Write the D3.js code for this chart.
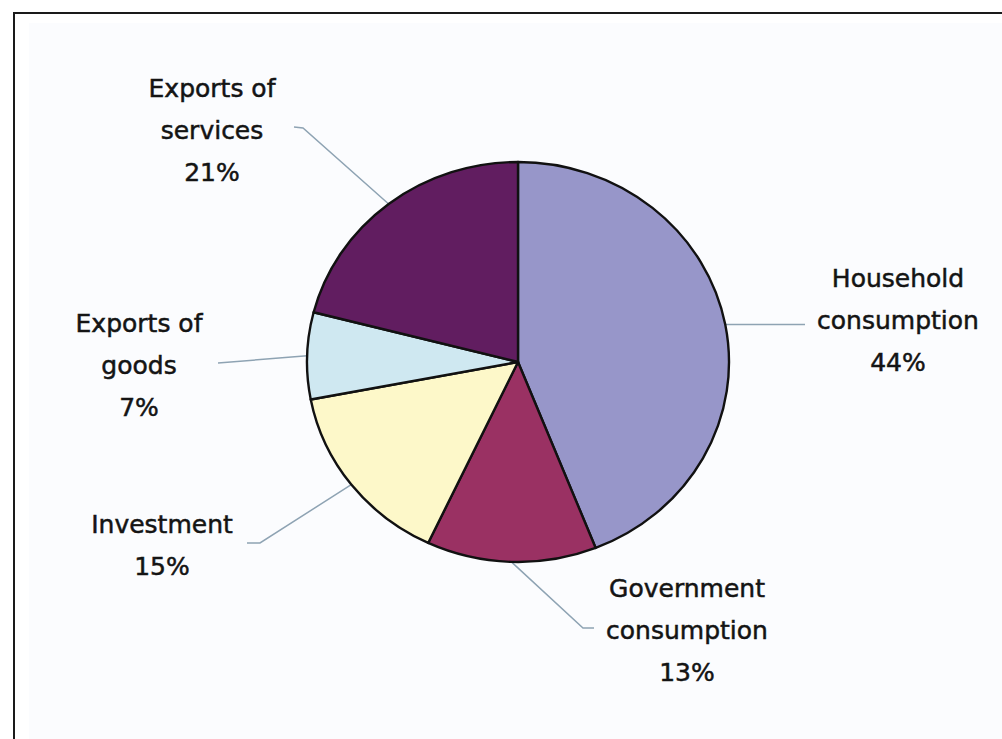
<!DOCTYPE html>
<html>
<head>
<meta charset="utf-8">
<script src="https://cdn.jsdelivr.net/npm/d3@7"></script>
<style>
  html, body { margin: 0; padding: 0; background: #fff; }
  svg { display: block; }
  .label {
    font-family: "Comic Sans MS", "DejaVu Sans", sans-serif;
    font-size: 25px;
    fill: #141414;
    stroke: #141414;
    stroke-width: 0.5px;
  }
</style>
</head>
<body>
<div id="viz"></div>
<script>
// Data (clockwise from 12 o'clock)
const categories = ["Household consumption", "Government consumption", "Investment", "Exports of goods", "Exports of services"];
const shares = [44, 13, 15, 7, 21];
const labelLines = [
  ["Household", "consumption", "44%"],
  ["Government", "consumption", "13%"],
  ["Investment", "15%"],
  ["Exports of", "goods", "7%"],
  ["Exports of", "services", "21%"]
];

const COLORS = ["#9796c9", "#9a3163", "#fdf8c9", "#cfe8f1", "#611d60"];

const width = 1002, height = 739;
const cx = 518, cy = 362, ry = 200, rx = 211;
const sx = rx / ry;
const lineGap = 42;

// label layout: text center x, first baseline y, leader elbow points
const labelLayout = [
  { x: 898, y: 287, bend: [[805, 324.5]] },
  { x: 687, y: 597, bend: [[583, 628], [594, 628]] },
  { x: 162, y: 533, bend: [[260, 543], [247, 543]] },
  { x: 139, y: 332, bend: [[218, 363]] },
  { x: 212, y: 97,  bend: [[303, 128], [294, 127]] }
];

const svg = d3.select("#viz")
  .append("svg")
  .attr("width", width)
  .attr("height", height);

// frame + faint plot background
svg.append("rect")
  .attr("x", 29).attr("y", 23)
  .attr("width", width).attr("height", height)
  .attr("fill", "#fbfcfe");

svg.append("rect")
  .attr("x", 14).attr("y", 13)
  .attr("width", width + 20).attr("height", height + 20)
  .attr("fill", "none")
  .attr("stroke", "#1a1a1a")
  .attr("stroke-width", 2);

const data = categories.map((c, i) => ({ name: c, value: shares[i], i }));

const pie = d3.pie()
  .value(d => d.value)
  .sort(null);

const arcs = pie(data);

const arc = d3.arc().innerRadius(0).outerRadius(ry);
const edgeArc = d3.arc().innerRadius(ry).outerRadius(ry);

// leader lines
const leaders = svg.append("g");
arcs.forEach((a, i) => {
  const [ex, ey] = edgeArc.centroid(a);
  const pts = [[cx + ex * sx, cy + ey], ...labelLayout[i].bend];
  leaders.append("path")
    .attr("d", d3.line()(pts))
    .attr("fill", "none")
    .attr("stroke", "#8ea3b3")
    .attr("stroke-width", 1.5);
});

// pie (stretched slightly horizontally as in the original)
const pieG = svg.append("g")
  .attr("transform", `translate(${cx},${cy}) scale(${sx},1)`);

pieG.selectAll("path")
  .data(arcs)
  .join("path")
  .attr("d", arc)
  .attr("fill", d => COLORS[d.data.i])
  .attr("stroke", "#111")
  .attr("stroke-width", 2.4)
  .attr("stroke-linejoin", "round")
  .attr("vector-effect", "non-scaling-stroke");

// labels
const labels = svg.append("g");
labelLines.forEach((lines, i) => {
  const t = labels.append("text")
    .attr("class", "label")
    .attr("text-anchor", "middle");
  lines.forEach((ln, j) => {
    t.append("tspan")
      .attr("x", labelLayout[i].x)
      .attr("y", labelLayout[i].y + j * lineGap)
      .text(ln);
  });
});
</script>
</body>
</html>
